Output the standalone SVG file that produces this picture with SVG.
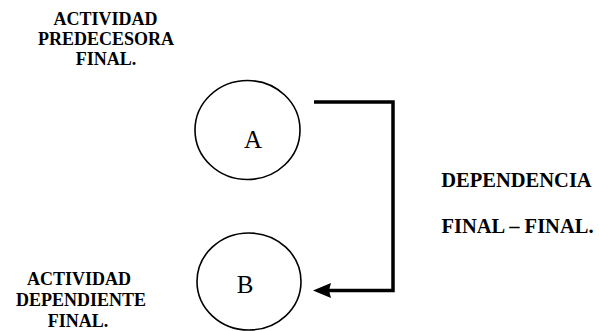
<svg xmlns="http://www.w3.org/2000/svg" width="599" height="331" viewBox="0 0 599 331">
<style>
text{font-family:'Liberation Serif','Times New Roman',serif}
.lbl{font-weight:bold;text-anchor:middle;fill:#000}
.sm{font-size:18px}
.lg{font-size:20.5px}
.node{fill:#fff;stroke:#000;stroke-width:1.6}
.nt{font-size:25px;text-anchor:middle;fill:#000}
.conn{fill:none;stroke:#000;stroke-width:3.5}
</style>
<rect width="599" height="331" fill="#fff"/>
<g id="label-pred">
<text class="lbl sm" x="105.5" y="25">ACTIVIDAD</text>
<text class="lbl sm" x="106" y="45">PREDECESORA</text>
<text class="lbl sm" x="106" y="65">FINAL.</text>
</g>
<g id="node-A">
<ellipse class="node" cx="247.5" cy="130" rx="52.5" ry="49.5"/>
<text class="nt" x="253" y="148">A</text>
</g>
<g id="node-B">
<ellipse class="node" cx="249" cy="281.5" rx="52" ry="48.5"/>
<text class="nt" x="245" y="293">B</text>
</g>
<g id="label-dep">
<text class="lbl sm" x="79" y="285">ACTIVIDAD</text>
<text class="lbl sm" x="81" y="306">DEPENDIENTE</text>
<text class="lbl sm" x="78" y="327">FINAL.</text>
</g>
<g id="label-rel">
<text class="lbl lg" x="516.5" y="187">DEPENDENCIA</text>
<text class="lbl lg" x="517.5" y="233">FINAL – FINAL.</text>
</g>
<g id="connectors">
<path class="conn" d="M314,102 H393 V290.5 H328"/>
<polygon points="313,290.5 331,283 329,290.5 331,298" fill="#000"/>
</g>
</svg>
